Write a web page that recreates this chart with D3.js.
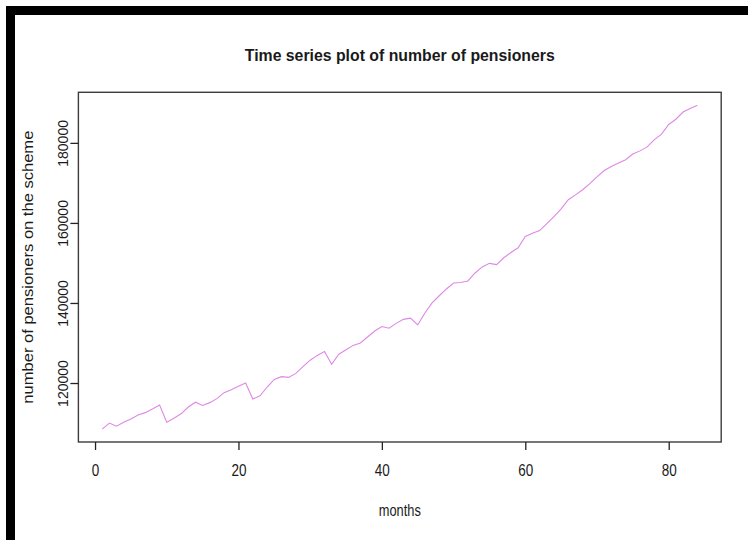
<!DOCTYPE html>
<html>
<head>
<meta charset="utf-8">
<script src="https://cdn.jsdelivr.net/npm/d3@7"></script>
<style>
  html, body { margin: 0; padding: 0; background: #fff; }
  svg { display: block; }
  text { font-family: "Liberation Sans", Arial, sans-serif; fill: #1a1a1a; }
</style>
</head>
<body>
<script>
// Monthly count of pensioners on the scheme
const months = d3.range(1, 85);
const pensioners = [
  108500, 110000, 109200, 110200, 111000, 112000, 112600, 113500, 114500, 110200,
  111200, 112300, 114000, 115200, 114400, 115100, 116100, 117600, 118300, 119200,
  120000, 116000, 116800, 119000, 120900, 121600, 121400, 122400, 124100, 125700,
  126900, 127900, 124700, 127200, 128300, 129400, 130000, 131500, 133000, 134100,
  133700, 134900, 135900, 136200, 134500, 137500, 140000, 141800, 143500, 145000,
  145100, 145500, 147500, 149000, 149900, 149600, 151300, 152600, 153800, 156600,
  157400, 158100, 159800, 161600, 163500, 165800, 167000, 168300, 169800, 171500,
  173100, 174100, 175000, 175800, 177200, 178000, 179000, 180800, 182200, 184600,
  185900, 187700, 188600, 189400
];
const xTicks = [0, 20, 40, 60, 80];
const yTicks = [120000, 140000, 160000, 180000];

const titleText = "Time series plot of number of pensioners";
const xLabel = "months";
const yLabel = "number of pensioners on the scheme";

const W = 748, H = 540;
const plot = { left: 78.4, right: 721.2, top: 92.3, bottom: 442 };

// pad both ranges by 4%, as a base-graphics plot does
function padded(ext) {
  const d = (ext[1] - ext[0]) * 0.04;
  return [ext[0] - d, ext[1] + d];
}

const x = d3.scaleLinear().domain(padded(d3.extent(months))).range([plot.left, plot.right]);
const y = d3.scaleLinear().domain(padded(d3.extent(pensioners))).range([plot.bottom, plot.top]);

const svg = d3.select("body").append("svg").attr("width", W).attr("height", H);

// page frame (black bands along top and left)
svg.append("rect").attr("x", 6).attr("y", 6).attr("width", W - 6).attr("height", 9).attr("fill", "#000");
svg.append("rect").attr("x", 6).attr("y", 6).attr("width", 9).attr("height", H - 6).attr("fill", "#000");

// series line
const data = months.map((m, i) => ({ m, v: pensioners[i] }));
svg.append("path")
  .datum(data)
  .attr("fill", "none")
  .attr("stroke", "#de88e6")
  .attr("stroke-width", 1.1)
  .attr("d", d3.line().x(d => x(d.m)).y(d => y(d.v)));

// plot box
svg.append("rect")
  .attr("x", plot.left).attr("y", plot.top)
  .attr("width", plot.right - plot.left).attr("height", plot.bottom - plot.top)
  .attr("fill", "none").attr("stroke", "#3c3c3c").attr("stroke-width", 1.4);

// x axis
const xAxis = svg.append("g").attr("transform", `translate(0,${plot.bottom})`)
  .call(d3.axisBottom(x).tickValues(xTicks).tickSize(8).tickSizeOuter(0).tickFormat(d3.format("d")));
xAxis.select(".domain").remove();
xAxis.selectAll(".tick line").attr("stroke", "#222").attr("stroke-width", 1.3);
xAxis.selectAll(".tick text")
  .attr("y", 0).attr("dy", null)
  .attr("transform", "translate(0,34) scale(0.9,1.05)")
  .style("font-family", "'Liberation Sans', Arial, sans-serif")
  .style("font-size", "15px").attr("fill", "#2a2a2a");

// y axis
const yAxis = svg.append("g").attr("transform", `translate(${plot.left},0)`)
  .call(d3.axisLeft(y).tickValues(yTicks).tickSize(8).tickSizeOuter(0).tickFormat(d3.format("d")));
yAxis.select(".domain").remove();
yAxis.selectAll(".tick line").attr("stroke", "#222").attr("stroke-width", 1.3);
yAxis.selectAll(".tick text")
  .attr("x", 0).attr("dy", null)
  .attr("text-anchor", "middle")
  .attr("transform", "translate(-10,0) rotate(-90)")
  .style("font-family", "'Liberation Sans', Arial, sans-serif")
  .style("font-size", "14px").attr("fill", "#333");

// title
svg.append("text")
  .attr("x", (plot.left + plot.right) / 2).attr("y", 61)
  .attr("text-anchor", "middle")
  .attr("font-size", 17).attr("font-weight", "bold")
  .attr("textLength", 310).attr("lengthAdjust", "spacingAndGlyphs")
  .text(titleText);

// x label
svg.append("text")
  .attr("x", (plot.left + plot.right) / 2).attr("y", 516)
  .attr("text-anchor", "middle")
  .attr("font-size", 16).attr("fill", "#2a2a2a")
  .attr("textLength", 42).attr("lengthAdjust", "spacingAndGlyphs")
  .text(xLabel);

// y label
svg.append("text")
  .attr("transform", `translate(33,${(plot.top + plot.bottom) / 2}) rotate(-90)`)
  .attr("text-anchor", "middle")
  .attr("font-size", 15).attr("fill", "#333")
  .attr("textLength", 273).attr("lengthAdjust", "spacingAndGlyphs")
  .text(yLabel);
</script>
</body>
</html>
